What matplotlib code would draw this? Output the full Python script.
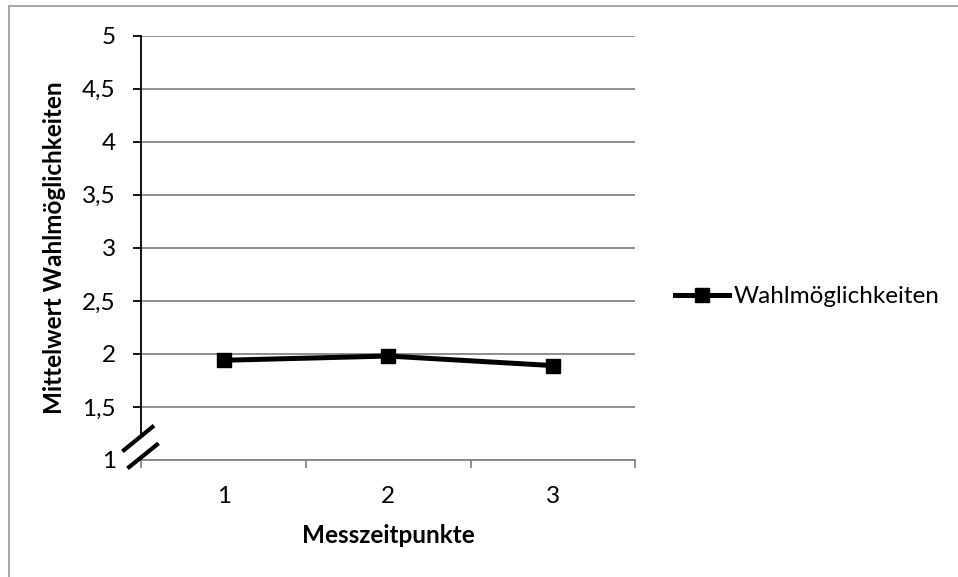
import matplotlib
matplotlib.use("Agg")
import matplotlib.pyplot as plt
from matplotlib.patches import Rectangle, Polygon

# mean choice values per measurement point
zeitpunkte = ["1", "2", "3"]
mittelwerte = [1.94, 1.98, 1.89]
y_ticks = [1, 1.5, 2, 2.5, 3, 3.5, 4, 4.5, 5]
y_labels = ["1", "1,5", "2", "2,5", "3", "3,5", "4", "4,5", "5"]

plt.rcParams["font.family"] = ["Lato", "DejaVu Sans"]
grey = "#868686"
fs = 17.5

fig = plt.figure(figsize=(9.58, 5.77), dpi=100)
ax = fig.add_axes([0.1477, 0.2028, 0.5152, 0.7353])

x = list(range(1, len(zeitpunkte) + 1))
ax.plot(x, mittelwerte, color="black", lw=3.6, marker="s", ms=10,
        label="Wahlmöglichkeiten", zorder=5)

ax.set_xlim(0.5, len(zeitpunkte) + 0.5)
ax.set_ylim(1, 5)
ax.set_yticks(y_ticks)
ax.set_yticklabels(y_labels, fontsize=fs)
ax.yaxis.grid(True, color=grey, lw=1.3)
ax.set_axisbelow(True)

# category labels in the middle, tick marks between categories
ax.set_xticks(x)
ax.set_xticklabels(zeitpunkte, fontsize=fs)
ax.tick_params(axis="x", which="major", length=0, pad=19)
ax.set_xticks([i + 0.5 for i in range(len(zeitpunkte) + 1)], minor=True)
ax.tick_params(axis="x", which="minor", length=6, width=1.3, color=grey)
ax.tick_params(axis="y", length=5.5, width=1.3, color="black", pad=13)

for s in ["top", "right"]:
    ax.spines[s].set_visible(False)
ax.spines["left"].set_linewidth(1.3)
ax.spines["bottom"].set_color(grey)
ax.spines["bottom"].set_linewidth(1.3)

ax.set_xlabel("Messzeitpunkte", fontsize=fs, fontweight="bold", labelpad=12)
ax.set_ylabel("Mittelwert Wahlmöglichkeiten", fontsize=fs, fontweight="bold", labelpad=12)

# axis break on the y axis
brk1 = [(-0.0386, 0.0203), (0.0254, 0.081)]
brk2 = [(-0.0284, -0.0198), (0.0345, 0.0392)]
ax.add_patch(Polygon(brk1 + brk2[::-1], closed=True, facecolor="white",
                     edgecolor="none", transform=ax.transAxes, clip_on=False, zorder=6))
for seg in (brk1, brk2):
    ax.plot([p[0] for p in seg], [p[1] for p in seg], color="black", lw=3,
            transform=ax.transAxes, clip_on=False, zorder=7, solid_capstyle="butt")

leg = ax.legend(loc="center left", bbox_to_anchor=(1.081, 0.385), frameon=False,
                fontsize=fs, handlelength=2.2, handletextpad=0.2,
                borderaxespad=0, borderpad=0)

# outer chart frame
fig.patches.append(Rectangle((9 / 958, -0.1), 1.2, 1 - 6 / 577 + 0.1,
                             transform=fig.transFigure, fill=False,
                             edgecolor="#a0a0a0", lw=1.3))

fig.savefig("out.png", dpi=100)
